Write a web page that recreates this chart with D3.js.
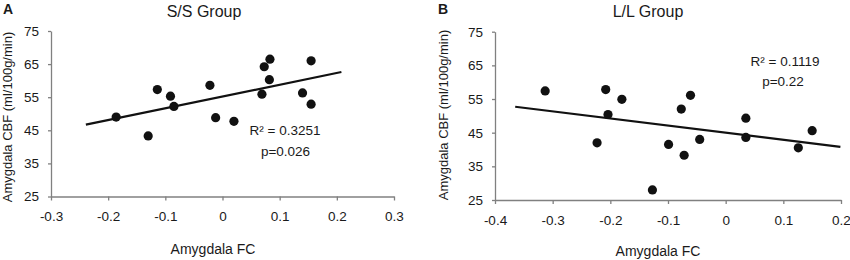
<!DOCTYPE html>
<html><head><meta charset="utf-8">
<script src="https://cdn.jsdelivr.net/npm/d3@7"></script>
<style>body{margin:0;background:#fff}svg{display:block}text{font-family:"Liberation Sans",Arial,sans-serif;fill:#1a1a1a}</style>
</head><body><svg id="c" width="850" height="260"></svg>
<script>
// Panel A: S/S group
const ssFC  = [-0.186,-0.130,-0.114,-0.091,-0.085,-0.022,-0.012,0.020,0.069,0.073,0.083,0.082,0.140,0.155,0.155];
const ssCBF = [49.0,43.3,57.3,55.3,52.2,58.6,48.8,47.7,55.9,64.2,66.5,60.3,56.3,66.0,52.9];
const ssTrendX = [-0.239,0.208];
const ssTrendY = [46.7,62.6];
// Panel B: L/L group
const llFC  = [-0.313,-0.223,-0.208,-0.204,-0.180,-0.127,-0.099,-0.077,-0.072,-0.061,-0.045,0.035,0.035,0.126,0.150];
const llCBF = [57.4,42.0,57.8,50.4,54.9,28.0,41.5,52.0,38.3,56.1,43.0,49.3,43.6,40.5,45.6];
const llTrendX = [-0.365,0.199];
const llTrendY = [52.7,40.8];
const yTicks = [25,35,45,55,65,75];
const ssXTicks = [-0.3,-0.2,-0.1,0,0.1,0.2,0.3];
const llXTicks = [-0.4,-0.3,-0.2,-0.1,0,0.1,0.2];

const svg = d3.select("#c");
const fmt = d => Math.abs(d) < 1e-9 ? "0" : d.toFixed(1);

function panel(o){
  const g = svg.append("g");
  const x = d3.scaleLinear().domain(o.xd).range(o.xr);
  const y = d3.scaleLinear().domain([25,75]).range(o.yr);
  const ax = g.append("g").attr("transform",`translate(0,${o.yr[0]})`)
    .call(d3.axisBottom(x).tickValues(o.xt).tickFormat(fmt).tickSize(4).tickSizeOuter(0).tickPadding(11));
  const ay = g.append("g").attr("transform",`translate(${o.xr[0]},0)`)
    .call(d3.axisLeft(y).tickValues(yTicks).tickSize(3).tickSizeOuter(0).tickPadding(9));
  [ax,ay].forEach(a=>{
    a.selectAll("path,line").attr("stroke","#808080").attr("stroke-width",1.3);
    a.selectAll("text").style("font-size","13.5px").attr("fill","#1a1a1a");
  });
  ax.select("path").attr("stroke-width",1.6);
  g.append("line")
    .attr("x1",x(o.tx[0])).attr("y1",y(o.ty[0]))
    .attr("x2",x(o.tx[1])).attr("y2",y(o.ty[1]))
    .attr("stroke","#111").attr("stroke-width",2.2);
  g.selectAll("circle").data(o.xs).join("circle")
    .attr("cx",d=>x(d)).attr("cy",(d,i)=>y(o.ys[i])).attr("r",4.6).attr("fill","#111");
  g.append("text").attr("x",o.letter[0]).attr("y",o.letter[1]).text(o.L)
    .style("font-size","14px").style("font-weight","bold");
  g.append("text").attr("x",o.title[0]).attr("y",o.title[1]).attr("text-anchor","middle")
    .style("font-size","16px").text(o.T);
  g.append("text").attr("x",o.xl[0]).attr("y",o.xl[1]).attr("text-anchor","middle")
    .style("font-size","14px").text("Amygdala FC");
  g.append("text").attr("transform",`translate(${o.yl[0]},${o.yl[1]}) rotate(-90)`).attr("text-anchor","middle")
    .style("font-size","13px").text("Amygdala CBF (ml/100g/min)");
  g.append("text").attr("x",o.r2[0]).attr("y",o.r2[1]).attr("text-anchor","middle")
    .style("font-size","13.5px").text(o.R2);
  g.append("text").attr("x",o.p[0]).attr("y",o.p[1]).attr("text-anchor","middle")
    .style("font-size","13.5px").text(o.P);
}

panel({xd:[-0.3,0.3],xr:[51,394],yr:[196.5,31],xt:ssXTicks,xs:ssFC,ys:ssCBF,tx:ssTrendX,ty:ssTrendY,
  L:"A",letter:[3,13.5],T:"S/S Group",title:[204,16.5],xl:[213,254],yl:[12,117],
  R2:"R² = 0.3251",r2:[285,135],P:"p=0.026",p:[285.5,156]});
panel({xd:[-0.4,0.2],xr:[495,841],yr:[200,31.7],xt:llXTicks,xs:llFC,ys:llCBF,tx:llTrendX,ty:llTrendY,
  L:"B",letter:[438,14],T:"L/L Group",title:[648,16.5],xl:[658,256],yl:[448,115],
  R2:"R² = 0.1119",r2:[785,66],P:"p=0.22",p:[783,86]});
</script></body></html>
